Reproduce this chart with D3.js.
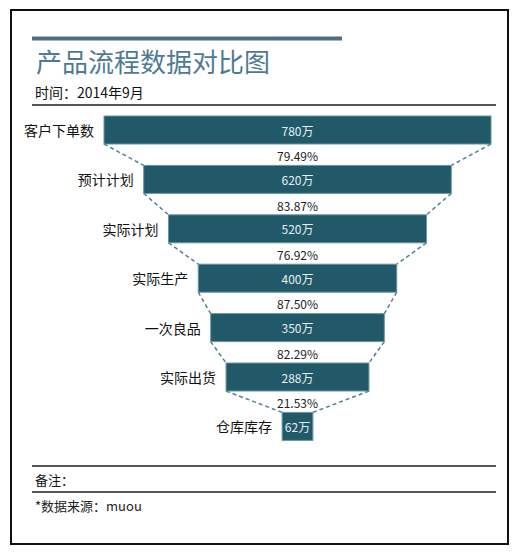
<!DOCTYPE html>
<html>
<head>
<meta charset="utf-8">
<script src="https://cdn.jsdelivr.net/npm/d3@7"></script>
<style>
  html, body { margin: 0; padding: 0; background: #fff; }
  svg { display: block; }
  text { font-family: "Noto Sans CJK SC", "Noto Sans", sans-serif; }
</style>
</head>
<body>
<svg id="chart" width="522" height="557"></svg>
<script>
const categories = ["客户下单数", "预计计划", "实际计划", "实际生产", "一次良品", "实际出货", "仓库库存"];
const values = [780, 620, 520, 400, 350, 288, 62];
const rates = ["79.49%", "83.87%", "76.92%", "87.50%", "82.29%", "21.53%"];
const titleText = "产品流程数据对比图";
const subtitleText = "时间：2014年9月";
const noteText = "备注：";
const sourceText = "*数据来源：muou";

const svg = d3.select("#chart");

// frame
svg.append("rect").attr("x", 12).attr("y", 11).attr("width", 497).attr("height", 534)
  .attr("fill", "#c8c8c8");
svg.append("rect").attr("x", 11).attr("y", 10).attr("width", 497).attr("height", 534)
  .attr("fill", "#fff").attr("stroke", "#111").attr("stroke-width", 2);

// title bar
svg.append("rect").attr("x", 32).attr("y", 36.5).attr("width", 310).attr("height", 4)
  .attr("fill", "#4a6f86");
svg.append("text").attr("x", 36).attr("y", 60).attr("dominant-baseline", "central")
  .attr("font-size", 26).attr("fill", "#4f7a93").text(titleText);
svg.append("text").attr("x", 35).attr("y", 92).attr("dominant-baseline", "central")
  .attr("font-size", 14).attr("fill", "#111").text(subtitleText);

svg.append("line").attr("x1", 32).attr("x2", 496).attr("y1", 105).attr("y2", 105)
  .attr("stroke", "#555").attr("stroke-width", 2);

// funnel scales
const cx = 297.5;
const x = d3.scaleLinear().domain([0, 780]).range([0, 387]);
const pad = 0.433;
const y = d3.scaleBand().domain(categories)
  .range([116, 116 + 49.4 * (categories.length - pad)])
  .paddingInner(pad).paddingOuter(0);

const data = categories.map((c, i) => ({ cat: c, v: values[i] }));

// connectors
const links = data.slice(0, -1).map((d, i) => ({ a: d, b: data[i + 1], rate: rates[i] }));
const g = svg.append("g");
links.forEach(l => {
  const yb = y(l.a.cat) + y.bandwidth();
  const yt = y(l.b.cat);
  [-1, 1].forEach(s => {
    g.append("line")
      .attr("x1", cx + s * x(l.a.v) / 2).attr("y1", yb)
      .attr("x2", cx + s * x(l.b.v) / 2).attr("y2", yt)
      .attr("stroke", "#4f8195").attr("stroke-width", 1.5)
      .attr("stroke-dasharray", "4,3");
  });
  g.append("text").attr("x", cx).attr("y", (yb + yt) / 2 + 1)
    .attr("text-anchor", "middle").attr("dominant-baseline", "central")
    .attr("font-size", 12).attr("fill", "#222").text(l.rate);
});

// bars
g.selectAll("rect.bar").data(data).enter().append("rect")
  .attr("class", "bar")
  .attr("x", d => cx - x(d.v) / 2)
  .attr("y", d => y(d.cat))
  .attr("width", d => x(d.v))
  .attr("height", y.bandwidth())
  .attr("fill", "#215968")
  .attr("stroke", "#6896a6").attr("stroke-width", 1);

g.selectAll("text.val").data(data).enter().append("text")
  .attr("class", "val")
  .attr("x", cx).attr("y", d => y(d.cat) + y.bandwidth() / 2)
  .attr("text-anchor", "middle").attr("dominant-baseline", "central")
  .attr("font-size", 12).attr("fill", "#e6f0f4")
  .text(d => d.v + "万");

g.selectAll("text.cat").data(data).enter().append("text")
  .attr("class", "cat")
  .attr("x", d => cx - x(d.v) / 2 - 10)
  .attr("y", d => y(d.cat) + y.bandwidth() / 2)
  .attr("text-anchor", "end").attr("dominant-baseline", "central")
  .attr("font-size", 14).attr("fill", "#111")
  .text(d => d.cat);

// footer
svg.append("line").attr("x1", 32).attr("x2", 496).attr("y1", 466).attr("y2", 466)
  .attr("stroke", "#555").attr("stroke-width", 2);
svg.append("text").attr("x", 35).attr("y", 479).attr("dominant-baseline", "central")
  .attr("font-size", 13).attr("fill", "#111").text(noteText);
svg.append("line").attr("x1", 32).attr("x2", 496).attr("y1", 492).attr("y2", 492)
  .attr("stroke", "#555").attr("stroke-width", 2);
svg.append("text").attr("x", 35).attr("y", 505).attr("dominant-baseline", "central")
  .attr("font-size", 13).attr("fill", "#222").text(sourceText);
</script>
</body>
</html>
